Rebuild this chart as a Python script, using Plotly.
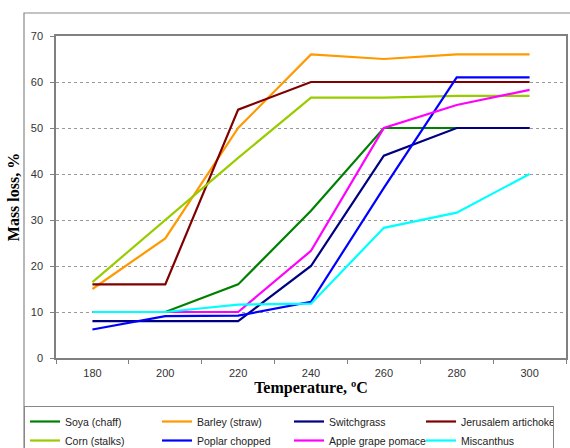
import plotly.graph_objects as go

temperatures = [180, 200, 220, 240, 260, 280, 300]
soya_chaff = [10, 10, 16, 32, 50, 50, 50]
barley_straw = [15, 26, 50, 66, 65, 66, 66]
switchgrass = [8, 8, 8, 20, 44, 50, 50]
jerusalem_artichoke = [16, 16, 54, 60, 60, 60, 60]
corn_stalks = [16.5, 30, 43.5, 56.6, 56.6, 57, 57]
poplar_chopped = [6.2, 9.1, 9.2, 12.2, 37, 61, 61]
apple_grape_pomace = [10, 10, 10, 23.3, 50, 55, 58.3]
miscanthus = [10, 10, 11.6, 11.8, 28.3, 31.6, 40]

series = [
    ("Soya (chaff)", soya_chaff, "#008000"),
    ("Barley (straw)", barley_straw, "#FF9900"),
    ("Switchgrass", switchgrass, "#000080"),
    ("Jerusalem artichoke", jerusalem_artichoke, "#800000"),
    ("Corn (stalks)", corn_stalks, "#99CC00"),
    ("Poplar chopped", poplar_chopped, "#0000FF"),
    ("Apple grape pomace", apple_grape_pomace, "#FF00FF"),
    ("Miscanthus", miscanthus, "#00FFFF"),
]

fig = go.Figure()
for name, vals, color in series:
    fig.add_trace(go.Scatter(
        x=[str(t) for t in temperatures], y=vals, name=name, mode="lines",
        line=dict(color=color, width=2.2),
    ))

W, H = 570, 448
ml, mr, mt, mb = 56, 4, 36, 90
pw, ph = W - ml - mr, H - mt - mb

def px_x(p):
    return (p - ml) / pw

def px_y(p):
    return (H - mb - p) / ph

fig.update_layout(
    width=W, height=H,
    margin=dict(l=ml, r=mr, t=mt, b=mb, autoexpand=False),
    paper_bgcolor="white", plot_bgcolor="white",
    font=dict(family="Liberation Sans, Arial", size=11, color="#333333"),
    showlegend=True,
    legend=dict(
        orientation="h",
        x=px_x(24), y=px_y(406), xanchor="left", yanchor="top",
        entrywidth=87, entrywidthmode="pixels",
        itemwidth=30,
        font=dict(family="Liberation Sans, Arial", size=10.5, color="#222222"),
        bordercolor="#888888", borderwidth=1,
        bgcolor="rgba(0,0,0,0)",
        traceorder="normal",
    ),
    xaxis=dict(
        type="category",
        range=[-0.5, len(temperatures) - 0.5],
        tickson="boundaries",
        ticks="outside", ticklen=4, tickcolor="#808080",
        ticklabelstandoff=4,
        showgrid=False,
        showline=True, linecolor="#808080", linewidth=1.5, mirror=True,
        tickfont=dict(size=11, color="#333333"),
        title=dict(text="Temperature, ºC",
                   font=dict(family="Liberation Serif, Times New Roman", size=16,
                             color="black", weight="bold"),
                   standoff=4),
    ),
    yaxis=dict(
        range=[0, 70], dtick=10,
        ticks="outside", ticklen=4, tickcolor="#808080",
        ticklabelstandoff=5,
        showgrid=True, gridcolor="#999999", griddash="dot", gridwidth=1,
        showline=True, linecolor="#808080", linewidth=1.5, mirror=True,
        zeroline=False,
        tickfont=dict(size=11, color="#333333"),
        title=dict(text="Mass loss, %",
                   font=dict(family="Liberation Serif, Times New Roman", size=16,
                             color="black", weight="bold"),
                   standoff=7),
    ),
    shapes=[dict(
        type="rect", xref="paper", yref="paper",
        x0=px_x(24), x1=px_x(600), y0=px_y(480), y1=px_y(13),
        line=dict(color="#888888", width=1.2), layer="below",
    )],
)

fig.write_html("out.html", config={"displayModeBar": False},
               post_script="document.body.style.margin='0';")
